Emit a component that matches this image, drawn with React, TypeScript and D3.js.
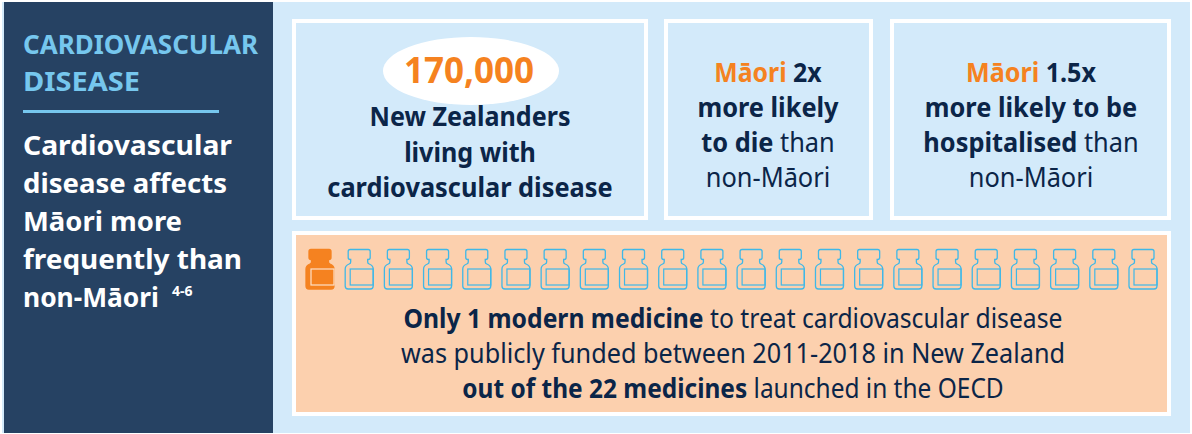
import { useEffect, useRef } from 'react';
import * as d3 from 'd3';

type Run = { t: string; c?: string; b?: boolean };

const medicinesLaunched = 22;
const medicinesFunded = 1;
const sidebarTitle = ['CARDIOVASCULAR', 'DISEASE'];
const sidebarBody = ['Cardiovascular', 'disease affects', 'Māori more', 'frequently than', 'non-Māori'];
const statCount = '170,000';

const NAVY = '#0b2548';
const ORANGE = '#f58220';

const box1: Run[][] = [
  [{ t: 'New Zealanders', b: true }],
  [{ t: 'living with', b: true }],
  [{ t: 'cardiovascular disease', b: true }],
];
const box2: Run[][] = [
  [{ t: 'Māori ', c: ORANGE, b: true }, { t: '2x', b: true }],
  [{ t: 'more likely', b: true }],
  [{ t: 'to die', b: true }, { t: ' than' }],
  [{ t: 'non-Māori' }],
];
const box3: Run[][] = [
  [{ t: 'Māori ', c: ORANGE, b: true }, { t: '1.5x', b: true }],
  [{ t: 'more likely to be', b: true }],
  [{ t: 'hospitalised', b: true }, { t: ' than' }],
  [{ t: 'non-Māori' }],
];
const box4: Run[][] = [
  [{ t: 'Only 1 modern medicine', b: true }, { t: ' to treat cardiovascular disease' }],
  [{ t: 'was publicly funded between 2011-2018 in New Zealand' }],
  [{ t: 'out of the 22 medicines', b: true }, { t: ' launched in the OECD' }],
];

const bottleOuter = 'M-9,-20.5 H9 Q11,-20.5 11,-18.5 V-12.5 Q11,-10.5 9,-10.5 H8.5 V-8 Q8.5,-6.5 10,-6 Q14,-4.5 14,-1 V16 Q14,19 11,19 H-11 Q-14,19 -14,16 V-1 Q-14,-4.5 -10,-6 Q-8.5,-6.5 -8.5,-8 V-10.5 H-9 Q-11,-10.5 -11,-12.5 V-18.5 Q-11,-20.5 -9,-20.5 Z';

export default function App() {
  const svgRef = useRef<SVGSVGElement>(null);

  useEffect(() => {
    const svg = d3.select(svgRef.current);
    svg.selectAll('*').remove();
    svg.attr('font-family', '"Noto Sans", sans-serif');

    svg.append('rect').attr('x', 2).attr('y', 2).attr('width', 1188).attr('height', 431).attr('fill', '#d3eafa');
    svg.append('rect').attr('x', 4).attr('y', 2).attr('width', 269).attr('height', 431).attr('fill', '#264263');

    const panels = [
      { x: 292, y: 19, w: 356, h: 201 },
      { x: 664, y: 19, w: 209, h: 201 },
      { x: 890, y: 19, w: 281, h: 201 },
    ];
    svg.selectAll('rect.panel').data(panels).enter().append('rect')
      .attr('class', 'panel')
      .attr('x', d => d.x + 2).attr('y', d => d.y + 2)
      .attr('width', d => d.w - 4).attr('height', d => d.h - 4)
      .attr('fill', 'none').attr('stroke', '#fff').attr('stroke-width', 4);
    svg.append('rect').attr('x', 294).attr('y', 233).attr('width', 875).attr('height', 181)
      .attr('fill', '#fcd0ae').attr('stroke', '#fff').attr('stroke-width', 4);

    // sidebar
    sidebarTitle.forEach((t, i) => {
      svg.append('text').attr('x', 23).attr('y', 54 + i * 37).attr('fill', '#76c7ee')
        .attr('font-size', 27).attr('font-weight', 700)
        .attr('textLength', i === 0 ? 235 : 117).attr('lengthAdjust', 'spacingAndGlyphs').text(t);
    });
    svg.append('rect').attr('x', 23).attr('y', 110).attr('width', 196).attr('height', 3).attr('fill', '#76c7ee');
    const bodyW = [209, 204, 159, 219, 136];
    sidebarBody.forEach((t, i) => {
      svg.append('text').attr('x', 23).attr('y', 155 + i * 38).attr('fill', '#fff')
        .attr('font-size', 27).attr('font-weight', 700)
        .attr('textLength', bodyW[i]).attr('lengthAdjust', 'spacingAndGlyphs').text(t);
    });
    svg.append('text').attr('x', 172).attr('y', 296).attr('fill', '#fff').attr('font-size', 14).attr('font-weight', 700).text('4-6');

    // stat bubble
    svg.append('ellipse').attr('cx', 471).attr('cy', 71).attr('rx', 88).attr('ry', 34).attr('fill', '#fff');
    svg.append('text').attr('x', 469).attr('y', 83).attr('text-anchor', 'middle').attr('fill', ORANGE)
      .attr('font-size', 35).attr('font-weight', 700).text(statCount);

    const drawLines = (lines: Run[][], cx: number, y0: number, dy: number, size: number, squeeze: number[]) => {
      lines.forEach((runs, i) => {
        const g = svg.append('g').attr('transform', `translate(${cx},${y0 + i * dy}) scale(${squeeze[i]},1)`);
        const text = g.append('text').attr('text-anchor', 'middle').attr('font-size', size).attr('fill', NAVY);
        runs.forEach(r => {
          text.append('tspan').attr('fill', r.c ?? NAVY).attr('font-weight', r.b ? 700 : 400)
            .attr('xml:space', 'preserve').text(r.t);
        });
      });
    };
    drawLines(box1, 470, 126, 35.5, 27, [0.93, 0.93, 0.94]);
    drawLines(box2, 768, 82, 35, 27, [0.92, 0.94, 0.94, 0.94]);
    drawLines(box3, 1031, 82, 35, 27, [0.93, 0.94, 0.94, 0.94]);
    drawLines(box4, 733, 328, 35, 27, [0.915, 0.935, 0.906]);

    // medicine bottles
    const bottles = d3.range(medicinesLaunched);
    const x = d3.scaleLinear().domain([0, medicinesLaunched - 1]).range([320, 1143]);
    const bottle = svg.selectAll('g.bottle').data(bottles).enter().append('g')
      .attr('class', 'bottle')
      .attr('transform', d => `translate(${x(d)},270)`);
    bottle.append('path').attr('d', bottleOuter)
      .attr('fill', d => (d < medicinesFunded ? ORANGE : 'none'))
      .attr('stroke', d => (d < medicinesFunded ? ORANGE : '#3fb8e8'))
      .attr('stroke-width', 1.3);
    bottle.append('rect').attr('x', -9).attr('y', -1).attr('width', 23).attr('height', 16)
      .attr('fill', 'none')
      .attr('stroke', d => (d < medicinesFunded ? '#fde0c8' : '#3fb8e8'))
      .attr('stroke-width', 1.2);
  }, []);

  return <svg ref={svgRef} width={1192} height={434} style={{ position: 'absolute', left: 0, top: 0 }} />;
}
